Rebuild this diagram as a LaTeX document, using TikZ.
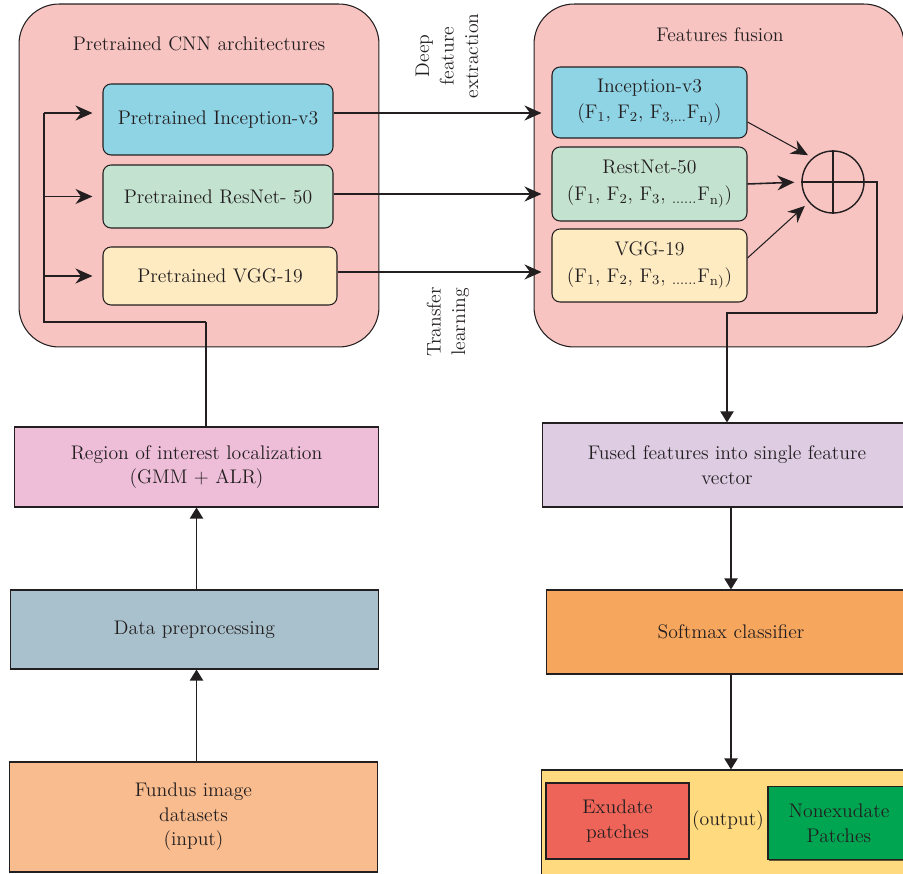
\documentclass[tikz,border=0pt]{standalone}
\usepackage{tikz}
\usetikzlibrary{arrows.meta,calc,shadows}
\definecolor{TextoGris}{RGB}{35,31,32}
\definecolor{RosaMarco}{RGB}{248,196,194}
\definecolor{AzulIncep}{RGB}{143,212,229}
\definecolor{VerdeRes}{RGB}{196,226,208}
\definecolor{AmarilloVgg}{RGB}{254,235,194}
\definecolor{RosaRoi}{RGB}{238,190,217}
\definecolor{GrisAzul}{RGB}{169,193,204}
\definecolor{NaranjaClaro}{RGB}{249,188,142}
\definecolor{LilaFus}{RGB}{222,204,227}
\definecolor{NaranjaSoft}{RGB}{247,166,94}
\definecolor{AmarilloSal}{RGB}{255,218,126}
\definecolor{RojoExu}{RGB}{238,100,89}
\definecolor{VerdeNoExu}{RGB}{0,165,81}

\begin{document}
\begin{tikzpicture}[x=0.02cm,y=-0.02cm,
  font=\fontsize{11.2}{14}\selectfont,text=TextoGris,
  marco/.style={draw=TextoGris,line width=0.6pt,fill=RosaMarco,rounded corners=0.8cm},
  cajaR/.style={draw=TextoGris,line width=0.6pt,rounded corners=0.16cm,align=center,inner sep=0pt},
  caja/.style={draw=TextoGris,line width=0.6pt,align=center,inner sep=0pt},
  sombra/.style={drop shadow={shadow xshift=0.7pt,shadow yshift=-0.7pt,fill=black,opacity=0.6}},
  flecha/.style={line width=1.1pt,draw=TextoGris,-{Stealth[length=0.34cm,width=0.3cm]}},
  flechab/.style={line width=1.1pt,draw=TextoGris,-{Triangle[length=0.22cm,width=0.26cm]}}]
  \useasboundingbox (0,0) rectangle (903,874);
  \clip (0,0) rectangle (903,874);

  % marcos redondeados de las dos etapas
  \node[marco,minimum width=7.2cm,minimum height=6.86cm] (cnn) at (199,175.5) {};
  \node (tcnn) at (199,44) {Pretrained CNN architectures};
  \node[marco,minimum width=7.4cm,minimum height=6.86cm] (fus) at (719,175.5) {};
  \node (tfus) at (720,35) {Features fusion};

  \node[cajaR,fill=AzulIncep,minimum width=4.6cm,minimum height=1.42cm] (inc) at (218,119.5) {Pretrained Inception-v3};
  \node[cajaR,fill=VerdeRes,minimum width=4.6cm,minimum height=1.26cm] (res) at (218,196.5) {Pretrained ResNet- 50};
  \node[cajaR,fill=AmarilloVgg,minimum width=4.68cm,minimum height=1.16cm] (vgg) at (220,276) {Pretrained VGG-19};

  \node[cajaR,fill=AzulIncep,minimum width=3.9cm,minimum height=1.42cm] (finc) at (649.5,102.5)
    {Inception-v3\\[1pt](F\textsubscript{1}, F\textsubscript{2}, F\textsubscript{3,...}F\textsubscript{n)})};
  \node[cajaR,fill=VerdeRes,minimum width=3.9cm,minimum height=1.48cm] (frn) at (649.5,184)
    {RestNet-50\\[1pt](F\textsubscript{1}, F\textsubscript{2}, F\textsubscript{3}, \textsubscript{......}F\textsubscript{n)})};
  \node[cajaR,fill=AmarilloVgg,minimum width=3.9cm,minimum height=1.46cm] (fvgg) at (649.5,265.5)
    {VGG-19\\[1pt](F\textsubscript{1}, F\textsubscript{2}, F\textsubscript{3}, \textsubscript{......}F\textsubscript{n)})};

  \node[circle,draw=TextoGris,line width=0.8pt,minimum size=1.24cm,inner sep=0pt] (suma) at (833,182) {};
  \draw[line width=0.8pt,TextoGris] (suma.north) -- (suma.south) (suma.west) -- (suma.east);

  % cadena inferior izquierda
  \node[caja,fill=RosaRoi,minimum width=7.3cm,minimum height=1.6cm] (roi) at (196.5,467) {Region of interest localization\\(GMM + ALR)};
  \node[caja,fill=GrisAzul,minimum width=7.38cm,minimum height=1.58cm] (prep) at (194.5,629.5) {Data preprocessing};
  \node[caja,fill=NaranjaClaro,minimum width=7.38cm,minimum height=2.2cm] (fundus) at (193.5,817) {Fundus image\\datasets\\(input)};

  % cadena inferior derecha
  \node[caja,fill=LilaFus,minimum width=7.4cm,minimum height=1.68cm] (fused) at (727,465) {Fused features into single feature\\vector};
  \node[caja,fill=NaranjaSoft,minimum width=7.4cm,minimum height=1.68cm] (soft) at (731,632) {Softmax classifier};
  \node[caja,fill=AmarilloSal,minimum width=7.6cm,minimum height=2.2cm] (sal) at (731,825) {};
  \node[caja,sombra,fill=RojoExu,minimum width=2.86cm,minimum height=1.52cm] (exu) at (617.5,821) {Exudate\\patches};
  \node[caja,sombra,fill=VerdeNoExu,minimum width=2.84cm,minimum height=1.46cm] (noexu) at (839,823) {Nonexudate\\Patches};
  \node (out) at (728,821) {(output)};

  \node[rotate=90,align=center] (etq1) at (447,56) {Deep\\feature\\extraction};
  \node[rotate=90,align=center] (etq2) at (448,322) {Transfer\\learning};

  % bus de entrada a las redes
  \coordinate (codo) at (206,322);
  \coordinate (busB) at (44,322);
  \coordinate (busT) at (44,113);
  \draw[line width=0.6pt,TextoGris] (roi.north -| codo) -- (codo);
  \draw[line width=1.1pt,TextoGris] (codo) -- (busB) -- (busT);
  \draw[flecha,shorten >=0.2cm] (busT) -- (busT -| inc.west);
  \draw[flecha,line width=0.8pt,shorten >=0.2cm] (busT |- res.west) -- (res.west);
  \draw[flecha,shorten >=0.2cm] (busT |- vgg.west) -- (vgg.west);

  \coordinate (fila3) at (0,272);
  \draw[flecha,shorten >=0.2cm] (inc.east |- busT) -- (finc.west |- busT);
  \draw[flecha,shorten >=0.2cm] (res.east |- 0,194) -- (finc.west |- 0,194);
  \draw[flecha,line width=0.6pt,shorten >=0.2cm] (vgg.east |- fila3) -- (fvgg.west |- fila3);

  \draw[flecha,line width=0.6pt,shorten >=3pt] ([yshift=-0.39cm]finc.east) -- (suma.130);
  \draw[flecha,line width=0.9pt,shorten >=0.14cm] (frn.east) -- (suma.west);
  \draw[flecha,line width=0.6pt,shorten >=3pt] ([yshift=0.15cm]fvgg.east) -- (suma.220);

  \coordinate (giro) at (877,313);
  \draw[line width=0.6pt,TextoGris] (suma.east) -| (giro);
  \draw[flechab] (giro) -| (fused.north);
  \draw[flechab] (fused.south -| soft.north) -- (soft.north);
  \draw[flechab] (soft.south) -- (sal.north);

  \draw[flechab] (roi.south |- prep.north) -- (roi.south);
  \draw[flechab] (roi.south |- fundus.north) -- (roi.south |- prep.south);
\end{tikzpicture}
\end{document}
